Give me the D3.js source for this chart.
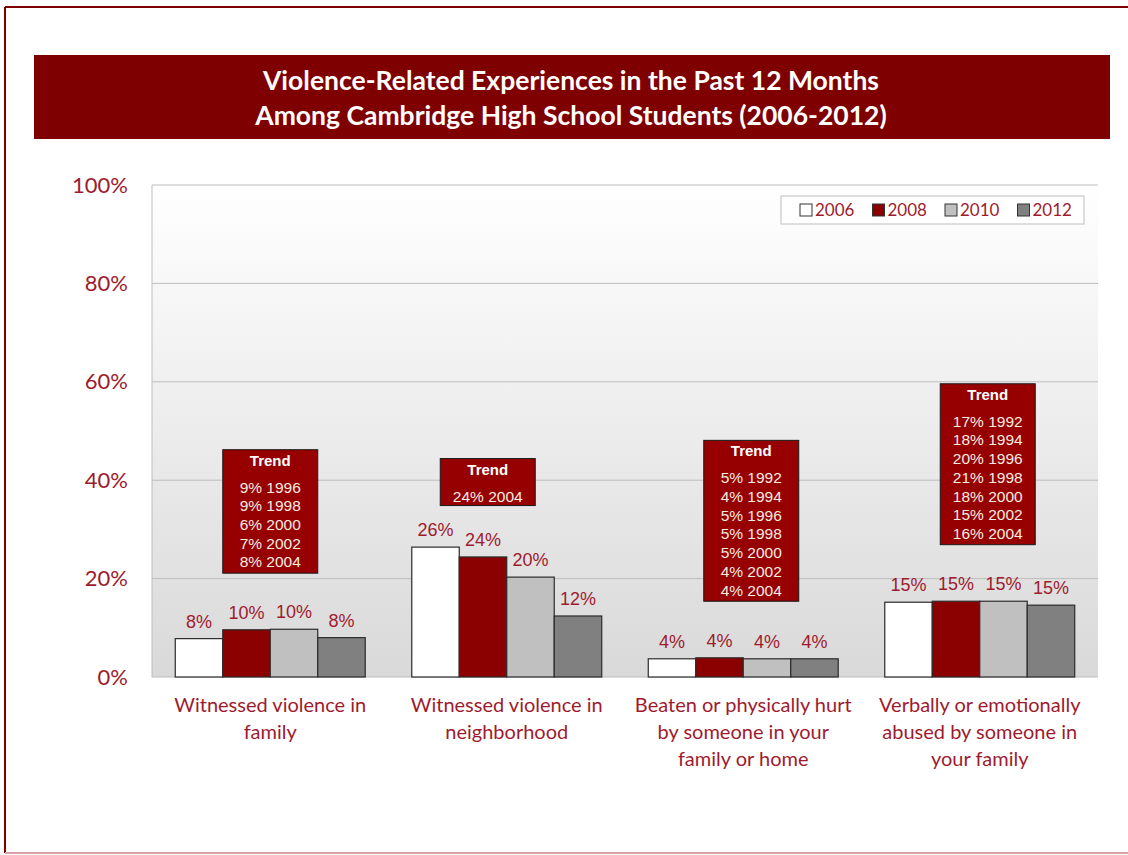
<!DOCTYPE html>
<head>
  <meta charset="utf-8" />
  <script src="https://d3js.org/d3.v7.min.js"></script>
  <style>
    body { margin: 0; background: #fff; }
    svg { display: block; }
  </style>
</head>
<body>
<script>
  // data
  var categories = [
    ["Witnessed violence in", "family"],
    ["Witnessed violence in", "neighborhood"],
    ["Beaten or physically hurt", "by someone in your", "family or home"],
    ["Verbally or emotionally", "abused by someone in", "your family"]
  ];
  var years = ["2006", "2008", "2010", "2012"];
  var v2006 = [7.8, 26.4, 3.7, 15.2];
  var v2008 = [9.6, 24.4, 3.9, 15.4];
  var v2010 = [9.7, 20.3, 3.7, 15.4];
  var v2012 = [8.0, 12.4, 3.7, 14.6];
  var labels2006 = ["8%", "26%", "4%", "15%"];
  var labels2008 = ["10%", "24%", "4%", "15%"];
  var labels2010 = ["10%", "20%", "4%", "15%"];
  var labels2012 = ["8%", "12%", "4%", "15%"];
  var yTicks = [0, 20, 40, 60, 80, 100];
  var trend = [
    ["9% 1996", "9% 1998", "6% 2000", "7% 2002", "8% 2004"],
    ["24% 2004"],
    ["5% 1992", "4% 1994", "5% 1996", "5% 1998", "5% 2000", "4% 2002", "4% 2004"],
    ["17% 1992", "18% 1994", "20% 1996", "21% 1998", "18% 2000", "15% 2002", "16% 2004"]
  ];

  var W = 1128, H = 855;
  var margin = {left: 152, right: 30, top: 185, bottom: 178};
  var colors = ["#ffffff", "#8b0000", "#c0c0c0", "#808080"];
  var textRed = "#9e1b2e";

  var svg = d3.select("body").append("svg").attr("width", W).attr("height", H);

  // outer frame (top + left dark, bottom faded)
  svg.append("line").attr("x1", 5).attr("x2", W).attr("y1", 7).attr("y2", 7)
    .attr("stroke", "#800000").attr("stroke-width", 2);
  svg.append("line").attr("x1", 5).attr("x2", 5).attr("y1", 7).attr("y2", 853)
    .attr("stroke", "#800000").attr("stroke-width", 2);
  svg.append("line").attr("x1", 5).attr("x2", W).attr("y1", 853).attr("y2", 853)
    .attr("stroke", "#d9a3a8").attr("stroke-width", 2);

  // title banner
  svg.append("rect").attr("x", 34).attr("y", 55).attr("width", 1076).attr("height", 84)
    .attr("fill", "#7f0000");
  var title = svg.append("text").attr("text-anchor", "middle")
    .attr("font-family", "Lato, 'Open Sans', sans-serif").attr("font-weight", "bold")
    .attr("font-size", 26.5).attr("fill", "#fff");
  title.append("tspan").attr("x", 571).attr("y", 90).text("Violence-Related Experiences in the Past 12 Months");
  title.append("tspan").attr("x", 571).attr("y", 125).text("Among Cambridge High School Students (2006-2012)");

  var plotW = W - margin.left - margin.right;
  var plotH = H - margin.top - margin.bottom;

  var x0 = d3.scaleBand().domain(d3.range(categories.length)).range([margin.left, margin.left + plotW]).padding(0);
  var x1 = d3.scaleBand().domain(years).range([0, x0.bandwidth()]).paddingInner(0).paddingOuter(0.49);
  var y = d3.scaleLinear().domain([0, 100]).range([margin.top + plotH, margin.top]);

  // plot background gradient
  var grad = svg.append("defs").append("linearGradient").attr("id", "bg")
    .attr("x1", 0).attr("y1", 0).attr("x2", 0).attr("y2", 1);
  grad.append("stop").attr("offset", "0%").attr("stop-color", "#ffffff");
  grad.append("stop").attr("offset", "100%").attr("stop-color", "#d9d9d9");
  svg.append("rect").attr("x", margin.left).attr("y", margin.top)
    .attr("width", plotW).attr("height", plotH).attr("fill", "url(#bg)");

  // gridlines
  svg.append("g").selectAll("line").data(yTicks).join("line")
    .attr("x1", margin.left).attr("x2", margin.left + plotW)
    .attr("y1", d => y(d)).attr("y2", d => y(d))
    .attr("stroke", "#bdbdbd").attr("stroke-width", 1);
  svg.append("line").attr("x1", margin.left).attr("x2", margin.left)
    .attr("y1", y(0)).attr("y2", y(100)).attr("stroke", "#bdbdbd");

  // y axis labels
  var yAxis = d3.axisLeft(y).tickValues(yTicks).tickFormat(d => d + "%").tickSize(0).tickPadding(24);
  var ya = svg.append("g").attr("transform", "translate(" + margin.left + ",0)").call(yAxis);
  ya.select(".domain").remove();
  ya.selectAll("text").attr("font-family", "Lato, sans-serif").attr("font-size", 22).attr("fill", textRed);

  // bars
  var series = [v2006, v2008, v2010, v2012];
  var seriesLabels = [labels2006, labels2008, labels2010, labels2012];
  var rows = [];
  categories.forEach(function (c, i) {
    years.forEach(function (yr, j) {
      rows.push({cat: i, year: yr, idx: j, value: series[j][i], label: seriesLabels[j][i]});
    });
  });

  svg.append("g").selectAll("rect").data(rows).join("rect")
    .attr("x", d => x0(d.cat) + x1(d.year))
    .attr("y", d => y(d.value))
    .attr("width", x1.bandwidth())
    .attr("height", d => y(0) - y(d.value))
    .attr("fill", d => colors[d.idx])
    .attr("stroke", "#2b2b2b").attr("stroke-width", 1.2);

  svg.append("g").selectAll("text").data(rows).join("text")
    .attr("x", d => x0(d.cat) + x1(d.year) + x1.bandwidth() / 2)
    .attr("y", d => y(d.value) - 11)
    .attr("text-anchor", "middle")
    .attr("font-family", "'Liberation Sans', Arial, sans-serif").attr("font-size", 18)
    .attr("fill", textRed)
    .text(d => d.label);

  // x category labels
  var xl = svg.append("g").selectAll("text").data(categories).join("text")
    .attr("text-anchor", "middle")
    .attr("font-family", "Lato, sans-serif").attr("font-size", 20).attr("fill", textRed);
  xl.each(function (lines, i) {
    d3.select(this).selectAll("tspan").data(lines).join("tspan")
      .attr("x", x0(i) + x0.bandwidth() / 2)
      .attr("y", (d, k) => y(0) + 35 + k * 27)
      .text(d => d);
  });

  // trend boxes: x offset from group centre, top in axis units
  var trendPos = [{dx: 0, top: 46.2}, {dx: -19, top: 44.4}, {dx: 8, top: 48.1}, {dx: 8, top: 59.6}];
  trend.forEach(function (lines, i) {
    var bw = 95, lineH = 18.7;
    var bh = lines.length === 1 ? 47 : 30 + lines.length * lineH;
    var cx = x0(i) + x0.bandwidth() / 2 + trendPos[i].dx;
    var top = y(trendPos[i].top);
    var g = svg.append("g");
    g.append("rect").attr("x", cx - bw / 2).attr("y", top).attr("width", bw).attr("height", bh)
      .attr("fill", "#960000").attr("stroke", "#1a1a1a").attr("stroke-width", 1);
    g.append("text").attr("x", cx).attr("y", top + 16).attr("text-anchor", "middle")
      .attr("font-family", "'Liberation Sans', Arial, sans-serif").attr("font-weight", "bold")
      .attr("font-size", 15).attr("fill", "#fff").text("Trend");
    g.append("g").selectAll("text").data(lines).join("text")
      .attr("x", cx)
      .attr("y", (d, k) => top + 43 + k * lineH)
      .attr("text-anchor", "middle")
      .attr("font-family", "'Liberation Sans', Arial, sans-serif")
      .attr("font-size", 15.5).attr("fill", "#f5ece0").text(d => d);
  });

  // legend
  var lg = svg.append("g");
  lg.append("rect").attr("x", 781).attr("y", 196).attr("width", 303).attr("height", 28)
    .attr("fill", "#fff").attr("stroke", "#bdbdbd");
  var li = lg.selectAll("g").data(years).join("g")
    .attr("transform", (d, i) => "translate(" + (800 + i * 72.5) + ",204)");
  li.append("rect").attr("width", 12).attr("height", 12)
    .attr("fill", (d, i) => colors[i]).attr("stroke", "#333");
  li.append("text").attr("x", 15).attr("y", 12)
    .attr("font-family", "Lato, sans-serif").attr("font-size", 17).attr("fill", textRed)
    .text(d => d);
</script>
</body>
